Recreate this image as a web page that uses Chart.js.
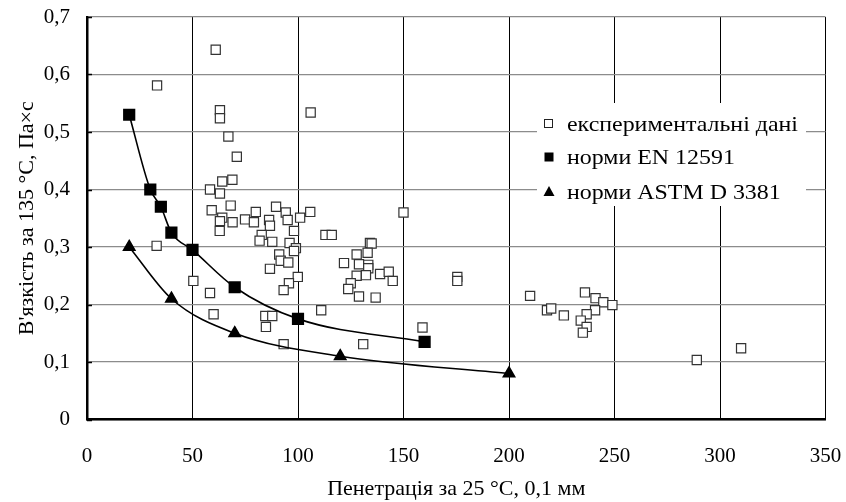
<!DOCTYPE html>
<html>
<head>
<meta charset="utf-8">
<script src="https://cdn.jsdelivr.net/npm/chart.js@4.4.1/dist/chart.umd.min.js"></script>
<style>
  html, body { margin: 0; padding: 0; background: #fff; }
  #wrap { width: 846px; height: 502px; position: relative; }
</style>
</head>
<body>
<div id="wrap"><canvas id="myChart"></canvas></div>
<script>
// experimental data (penetration, viscosity)
const expX = [33.2, 61, 63, 63, 106, 67, 71, 68.9, 64.1, 58.3, 63, 68.1, 59.1, 64.1, 63, 69, 62.9, 74.9, 80, 79.1,
  86.3, 86.7, 89.6, 94.2, 95.1, 101, 105.8, 98.1, 82.8, 81.8, 87.8, 96, 99, 98.1, 91.1, 91.8, 95.4, 86.7, 99.9, 95.7,
  93.2, 50.4, 58.3, 33, 60, 84.5, 87.8, 84.8, 93.2, 111, 130.9, 113, 116, 150, 134.1, 134.9, 133, 127.8, 121.8, 128.9,
  133.3, 133.3, 127.8, 132.2, 138.9, 143, 144.9, 125, 123.8, 128.9, 136.8, 175.5, 175.5, 159, 210, 218, 220, 226, 236, 241,
  244.7, 249, 240.8, 236.8, 234, 236.8, 235, 289, 310];
const expY = [0.581, 0.643, 0.538, 0.524, 0.534, 0.492, 0.457, 0.417, 0.414, 0.400, 0.393, 0.372, 0.364, 0.351, 0.345, 0.343, 0.328, 0.348, 0.361, 0.343,
  0.347, 0.337, 0.370, 0.360, 0.347, 0.351, 0.361, 0.328, 0.321, 0.311, 0.309, 0.307, 0.298, 0.293, 0.287, 0.276, 0.273, 0.262, 0.248, 0.237,
  0.225, 0.241, 0.220, 0.302, 0.183, 0.180, 0.180, 0.161, 0.131, 0.190, 0.131, 0.321, 0.321, 0.360, 0.307, 0.306, 0.290, 0.287, 0.272, 0.270,
  0.269, 0.263, 0.250, 0.251, 0.253, 0.257, 0.241, 0.237, 0.227, 0.214, 0.212, 0.248, 0.241, 0.160, 0.215, 0.190, 0.193, 0.181, 0.221, 0.211,
  0.204, 0.199, 0.190, 0.183, 0.172, 0.161, 0.151, 0.1035, 0.124];

// EN 12591 norms
const enX = [20, 30, 35, 40, 50, 70, 100, 160];
const enY = [0.53, 0.40, 0.37, 0.325, 0.295, 0.23, 0.175, 0.135];

// ASTM D 3381 norms
const astmX = [20, 40, 70, 120, 200];
const astmY = [0.30, 0.21, 0.15, 0.11, 0.08];

const legendLabels = ['експериментальні дані', 'норми EN 12591', 'норми ASTM D 3381'];

const FONT = "'Liberation Serif', 'Times New Roman', serif";

function pts(xs, ys) {
  return xs.map((x, i) => ({ x: x, y: ys[i] }));
}

function commaLabel(v) {
  if (v === 0) return '0';
  return (Math.round(v * 10) / 10).toFixed(1).replace('.', ',');
}

// white legend box inside the plot + inward tick marks on y axis
const legendBox = {
  id: 'legendBox',
  beforeDatasetsDraw(chart) {
    const c = chart.ctx;
    c.save();
    c.fillStyle = '#fff';
    c.fillRect(537, 103, 269, 103);
    c.font = '21px ' + FONT;
    c.fillStyle = '#000';
    c.textBaseline = 'middle';
    const ys = [124, 157, 192];
    // open square
    c.strokeStyle = '#222';
    c.lineWidth = 1;
    c.strokeRect(544.5, ys[0] - 4.5, 8, 8);
    // filled square
    c.fillRect(544.5, ys[1] - 4.5, 9, 9);
    // triangle
    c.beginPath();
    c.moveTo(549, ys[2] - 6);
    c.lineTo(554.5, ys[2] + 4);
    c.lineTo(543.5, ys[2] + 4);
    c.closePath();
    c.fill();
    // the source font is a bit wider than ours, stretch text to match
    const sx = 231 / c.measureText(legendLabels[0]).width;
    legendLabels.forEach((t, i) => {
      c.save();
      c.translate(567, ys[i] + 1);
      c.scale(sx, 1);
      c.fillText(t, 0, 0);
      c.restore();
    });
    c.restore();
  },
  afterDraw(chart) {
    const c = chart.ctx;
    const ys = chart.scales.y;
    const a = chart.chartArea;
    c.save();
    c.strokeStyle = '#000';
    c.lineWidth = 1.5;
    ys.ticks.forEach(t => {
      const py = Math.round(ys.getPixelForValue(t.value)) + 0.5;
      c.beginPath();
      c.moveTo(a.left, py);
      c.lineTo(a.left + 5, py);
      c.stroke();
    });
    c.restore();
  }
};

const ctx = document.getElementById('myChart').getContext('2d');
const chart = new Chart(ctx, {
  type: 'scatter',
  data: {
    datasets: [
      {
        label: legendLabels[0],
        data: pts(expX, expY),
        pointStyle: 'rect',
        pointRadius: 6.5,
        pointBackgroundColor: '#fff',
        pointBorderColor: '#333',
        pointBorderWidth: 1.2,
        showLine: false,
        order: 3
      },
      {
        label: legendLabels[1],
        data: pts(enX, enY),
        pointStyle: 'rect',
        pointRadius: 7.5,
        pointBackgroundColor: '#000',
        pointBorderColor: '#000',
        borderColor: '#000',
        borderWidth: 1.6,
        showLine: true,
        cubicInterpolationMode: 'monotone',
        order: 1
      },
      {
        label: legendLabels[2],
        data: pts(astmX, astmY),
        pointStyle: 'triangle',
        pointRadius: 6.5,
        pointBackgroundColor: '#000',
        pointBorderColor: '#000',
        borderColor: '#000',
        borderWidth: 1.6,
        showLine: true,
        cubicInterpolationMode: 'monotone',
        order: 2
      }
    ]
  },
  options: {
    responsive: true,
    maintainAspectRatio: false,
    animation: false,
    layout: { padding: { top: 17, right: 20.5, left: 0, bottom: 0 } },
    plugins: {
      legend: { display: false },
      tooltip: { enabled: false }
    },
    scales: {
      x: {
        type: 'linear',
        min: 0,
        max: 350,
        ticks: {
          stepSize: 50,
          color: '#000',
          padding: 24,
          font: { family: FONT, size: 21 },
          maxRotation: 0
        },
        grid: { color: '#000', lineWidth: 1, drawTicks: false },
        border: { color: '#000', width: 2.5 },
        title: {
          display: true,
          text: 'Пенетрація за 25 °C, 0,1 мм',
          color: '#000',
          font: { family: FONT, size: 22 },
          padding: { top: 0, bottom: 0 }
        },
        afterFit(scale) {
          scale.height = 82.5;
          scale.paddingLeft = 0;
          scale.paddingRight = 0;
        }
      },
      y: {
        type: 'linear',
        min: 0,
        max: 0.7,
        ticks: {
          stepSize: 0.1,
          color: '#000',
          padding: 17,
          font: { family: FONT, size: 21 },
          callback: commaLabel
        },
        grid: { color: '#8c8c8c', lineWidth: 1.3, drawTicks: false },
        border: { color: '#000', width: 2.5 },
        title: {
          display: true,
          text: 'В\'язкість за 135 °С, Па×с',
          color: '#000',
          font: { family: FONT, size: 22 },
          padding: { top: 14, bottom: 0 }
        },
        afterFit(scale) {
          scale.width = 87;
          scale.paddingTop = 0;
          scale.paddingBottom = 0;
        }
      }
    }
  },
  plugins: [legendBox]
});
</script>
</body>
</html>
